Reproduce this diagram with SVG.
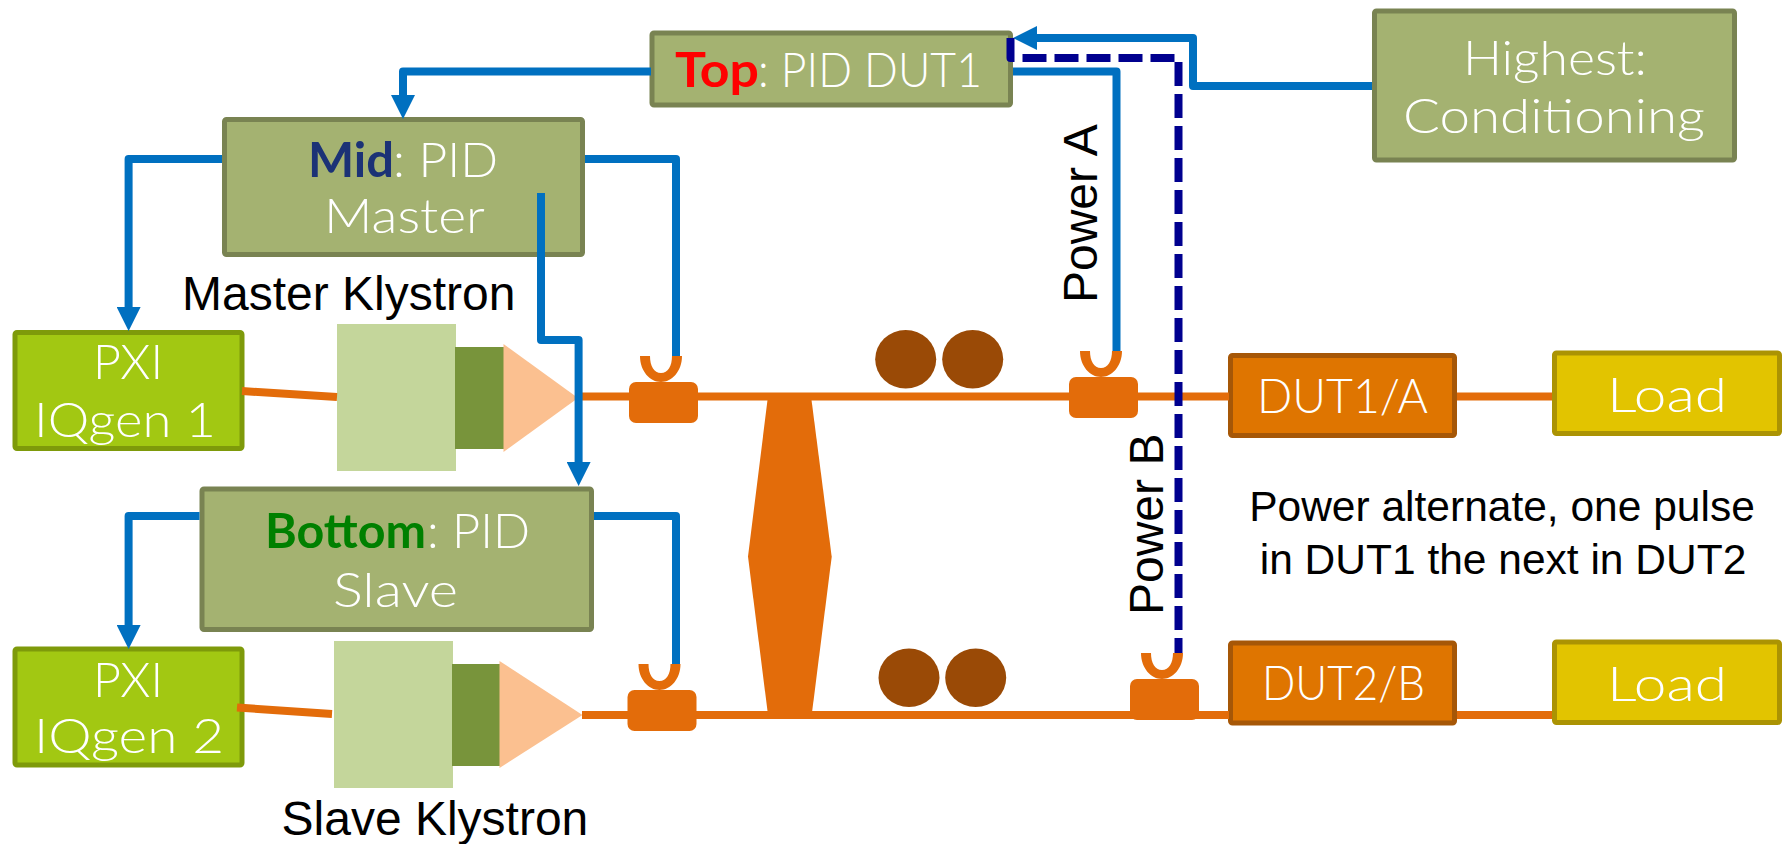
<svg xmlns="http://www.w3.org/2000/svg" width="1785" height="844" viewBox="0 0 1785 844">
<style>
.box{stroke-width:5;stroke-linejoin:round}
.olive{fill:#A4B271;stroke:#798352}
.lime{fill:#A2C812;stroke:#7E9A0A}
.dut{fill:#DF7500;stroke:#A65707}
.load{fill:#E2C400;stroke:#AB9303}
.t{font-family:"Lato","Open Sans",sans-serif;font-weight:300;font-size:48px;fill:#fff}
.b{font-weight:700}
.k{font-family:"Liberation Sans",Arial,sans-serif;font-size:48px;fill:#000}
.n{font-family:"Liberation Sans",Arial,sans-serif;font-size:42.500px;fill:#000;text-anchor:middle}
.rf{fill:none;stroke:#E36C0A;stroke-width:8}
.sig{fill:none;stroke:#0070C0;stroke-width:8;stroke-linejoin:round}
.dash{fill:none;stroke:#00008F;stroke-width:8;stroke-dasharray:24 8;stroke-linejoin:round}
.or{fill:#E36C0A}
.mag{fill:#9A4A06}
.k1{fill:#C4D69B}.k2{fill:#78943B}.k3{fill:#FBC090}
</style>
<defs>
<marker id="arrow" markerUnits="userSpaceOnUse" markerWidth="24" markerHeight="24" refX="1" refY="12" orient="auto"><path d="M0,0L24,12L0,24Z" fill="#0070C0"/></marker>
<g id="coupler"><rect x="0" y="26" width="69" height="41" rx="7" class="or"/><path d="M11,0C11,15 21,26 32,26C43,26 53,15 53,0L43,0C43,10 39,17 32,17C25,17 21,10 21,0Z" class="or"/></g>
</defs>
<rect width="1785" height="844" fill="#fff"/>

<g id="highest"><rect class="box olive" x="1374.500" y="11" width="360" height="149" rx="2"/>
<text class="t" x="1463" y="75" textLength="184" lengthAdjust="spacingAndGlyphs">Highest:</text>
<text class="t" x="1403" y="133" textLength="302" lengthAdjust="spacingAndGlyphs">Conditioning</text></g>

<g id="top"><rect class="box olive" x="652" y="33" width="358.500" height="72" rx="2"/>
<text class="t" y="87"><tspan class="b" style="fill:#FF0000" x="675" textLength="84" lengthAdjust="spacingAndGlyphs">Top</tspan><tspan x="758" textLength="224" lengthAdjust="spacingAndGlyphs">: PID DUT1</tspan></text></g>

<g id="mid"><rect class="box olive" x="224.500" y="119.500" width="358" height="135" rx="2"/>
<text class="t" y="177"><tspan class="b" style="fill:#1B3276" x="308" textLength="86" lengthAdjust="spacingAndGlyphs">Mid</tspan><tspan x="393" textLength="105" lengthAdjust="spacingAndGlyphs">: PID</tspan></text>
<text class="t" x="324" y="233" textLength="161" lengthAdjust="spacingAndGlyphs">Master</text></g>

<g id="bottom"><rect class="box olive" x="202" y="489" width="389.500" height="140.500" rx="2"/>
<text class="t" y="548"><tspan class="b" style="fill:#008000" x="265" textLength="161" lengthAdjust="spacingAndGlyphs">Bottom</tspan><tspan x="427" textLength="103" lengthAdjust="spacingAndGlyphs">: PID</tspan></text>
<text class="t" x="333" y="607" textLength="125" lengthAdjust="spacingAndGlyphs">Slave</text></g>

<g id="pxi1"><rect class="box lime" x="15" y="332.500" width="227" height="116" rx="2"/>
<text class="t" x="93" y="379" textLength="70" lengthAdjust="spacingAndGlyphs">PXI</text>
<text class="t" x="34" y="437" textLength="182" lengthAdjust="spacingAndGlyphs">IQgen 1</text></g>

<g id="pxi2"><rect class="box lime" x="15" y="649" width="227" height="116" rx="2"/>
<text class="t" x="93" y="697" textLength="70" lengthAdjust="spacingAndGlyphs">PXI</text>
<text class="t" x="34" y="753" textLength="190" lengthAdjust="spacingAndGlyphs">IQgen 2</text></g>

<g id="master-klystron"><rect class="k1" x="337" y="324" width="119" height="147"/><rect class="k2" x="455" y="347" width="49" height="102"/><path class="k3" d="M503.500,344L578,398L503.500,452Z"/>
<text class="k" x="182" y="310">Master Klystron</text></g>

<g id="slave-klystron"><rect class="k1" x="334" y="641" width="119" height="147"/><rect class="k2" x="452" y="664" width="48" height="102"/><path class="k3" d="M499.500,661L582.500,715L499.500,768Z"/>
<text class="k" x="281.500" y="835">Slave Klystron</text></g>

<g id="splitter"><path class="or" d="M768,396L811,396L831.700,556.700L811.700,715L768,715L748,556.700Z"/></g>
<g id="magnets-a"><ellipse class="mag" cx="905.700" cy="359.300" rx="30.500" ry="29.300"/><ellipse class="mag" cx="972.700" cy="359.300" rx="30.500" ry="29.300"/></g>
<g id="magnets-b"><ellipse class="mag" cx="909" cy="677.700" rx="30.500" ry="29.300"/><ellipse class="mag" cx="975.700" cy="677.700" rx="30.500" ry="29.300"/></g>

<g id="dut1"><rect class="box dut" x="1230.500" y="355.500" width="224" height="80" rx="2"/><text class="t" x="1257" y="413" textLength="171" lengthAdjust="spacingAndGlyphs">DUT1/A</text></g>
<g id="dut2"><rect class="box dut" x="1230.500" y="643" width="224" height="80" rx="2"/><text class="t" x="1262" y="700" textLength="163" lengthAdjust="spacingAndGlyphs">DUT2/B</text></g>
<g id="load1"><rect class="box load" x="1554.500" y="353" width="225" height="80.500" rx="2"/><text class="t" x="1607" y="412" textLength="120" lengthAdjust="spacingAndGlyphs">Load</text></g>
<g id="load2"><rect class="box load" x="1554.500" y="642" width="225" height="80.500" rx="2"/><text class="t" x="1607" y="701" textLength="120" lengthAdjust="spacingAndGlyphs">Load</text></g>

<g id="connectors">
<path class="rf" d="M578,396.500H1229"/>
<path class="rf" d="M582,715H1229"/>
<path class="rf" d="M1457,396.500H1552"/>
<path class="rf" d="M1457,715H1552"/>
<path class="rf" d="M242,391L337,397"/>
<path class="rf" d="M237,707.500L332,714"/>
<path class="sig" d="M1372,86H1193V38H1036" style="marker-end:url(#arrow)"/>
<path class="sig" d="M651,71.500H403V96" style="marker-end:url(#arrow)"/>
<path class="sig" d="M222,159H128.600V308" style="marker-end:url(#arrow)"/>
<path class="sig" d="M585,159H676V357"/>
<path class="sig" d="M541,193V340H578.600V463" style="marker-end:url(#arrow)"/>
<path class="sig" d="M199.500,516H128.600V626" style="marker-end:url(#arrow)"/>
<path class="sig" d="M594,516H676V665"/>
<path class="sig" d="M1013,71.500H1116.500V356"/>
<path class="dash" d="M1010.500,38V58H1178.500V653"/>
</g>

<use id="coupler-m" href="#coupler" x="629" y="356"/>
<use id="coupler-s" href="#coupler" x="627.500" y="664"/>
<use id="coupler-a" href="#coupler" x="1069" y="351"/>
<use id="coupler-b" href="#coupler" x="1130" y="653"/>

<g id="labels">
<text class="k" transform="translate(1097,303) rotate(-90)">Power A</text>
<text class="k" transform="translate(1163,615) rotate(-90)">Power B</text>
<text class="n" x="1502" y="521">Power alternate, one pulse</text>
<text class="n" x="1503" y="574">in DUT1 the next in DUT2</text>
</g>
</svg>
